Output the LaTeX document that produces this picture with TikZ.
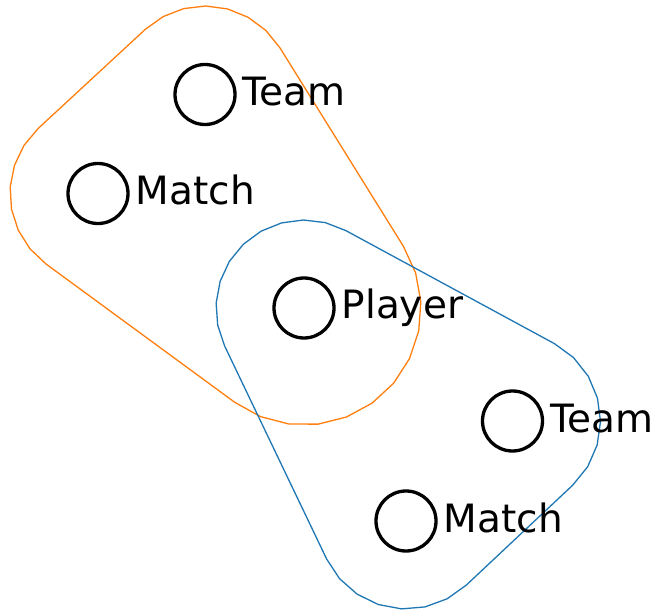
\documentclass[tikz,border=0pt]{standalone}
\usepackage{fontspec}
\setmainfont{DejaVu Sans}
\definecolor{hullorange}{HTML}{FF7F0E}
\definecolor{hullblue}{HTML}{1F77B4}
\begin{document}
\begin{tikzpicture}[x=1pt,y=-1pt,
  vert/.style={circle,draw=black,line width=3.3pt,minimum size=60pt,inner sep=0pt},
  lbl/.style={anchor=base west,inner sep=0pt,font=\fontsize{39}{42}\selectfont},
  hullO/.style={draw=hullorange,line width=1.3pt,line join=round},
  hullB/.style={draw=hullblue,line width=1.3pt,line join=round}]
\useasboundingbox[fill=white] (0,0) rectangle (656,612);
% hyperedges
\draw[hullO] plot[domain=-31.88:126.23,samples=12] ({304+117*cos(\x)},{308+117*sin(\x)})
  -- plot[domain=126.23:227.22,samples=8] ({98+88*cos(\x)},{193+88*sin(\x)})
  -- plot[domain=227.22:328.12,samples=8] ({205+88*cos(\x)},{94+88*sin(\x)}) -- cycle;
\draw[hullB] plot[domain=-61.54:46.81,samples=8] ({512.5+88*cos(\x)},{421+88*sin(\x)})
  -- plot[domain=46.81:154.41,samples=8] ({406+88*cos(\x)},{521+88*sin(\x)})
  -- plot[domain=154.41:298.46,samples=11] ({304+88*cos(\x)},{308+88*sin(\x)}) -- cycle;
% vertices
\node[vert] (t1) at (205,94.5) {};
\node[vert] (m1) at (98,193.5) {};
\node[vert] (p) at (304,308) {};
\node[vert] (t2) at (512.5,421) {};
\node[vert] (m2) at (406,521) {};
% labels
\node[lbl] (t1l) at ([xshift=37.5pt,yshift=-11pt]t1.center) {Team};
\node[lbl] (m1l) at ([xshift=37.5pt,yshift=-11pt]m1.center) {Match};
\node[lbl] (pl) at ([xshift=37.5pt,yshift=-11pt]p.center) {Player};
\node[lbl] (t2l) at ([xshift=37.5pt,yshift=-11pt]t2.center) {Team};
\node[lbl] (m2l) at ([xshift=37.5pt,yshift=-11pt]m2.center) {Match};
\end{tikzpicture}
\end{document}
